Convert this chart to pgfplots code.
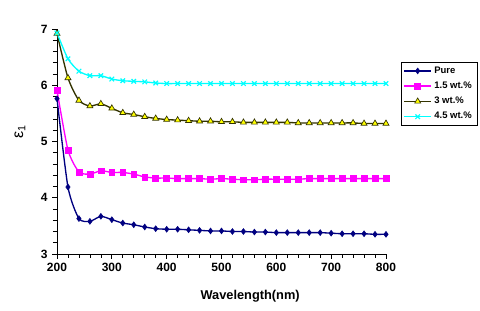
\documentclass[border=0pt]{standalone}
\usepackage{pgfplots}
\pgfplotsset{compat=1.18}
\usepackage{fontspec}
\setmainfont{Liberation Sans}
\definecolor{cpure}{RGB}{0,0,128}
\definecolor{cpink}{RGB}{255,0,255}
\definecolor{colive}{RGB}{51,51,0}
\definecolor{cyell}{RGB}{255,255,0}
\definecolor{ccyan}{RGB}{0,255,255}
\begin{document}
\begin{tikzpicture}
\useasboundingbox (0,0) rectangle (360pt,233.25pt);
\begin{axis}[
  at={(42.75pt,42.75pt)}, anchor=south west,
  scale only axis, width=246.75pt, height=168.75pt,
  xmin=200, xmax=800, ymin=3, ymax=7,
  xtick={200,300,...,800}, ytick={3,4,5,6,7},
  minor x tick num=4, minor y tick num=4,
  axis x line*=bottom, axis y line*=left,
  axis line style={line width=0.6pt},
  tick align=outside,
  major tick length=3.5pt, minor tick length=3pt,
  tick style={black, line width=0.5pt},
  /pgf/number format/assume math mode=true,
  ticklabel style={font=\bfseries\fontsize{9}{10}\selectfont},
  xlabel={\bfseries Wavelength(nm)},
  xlabel style={font=\fontsize{9.6}{11}\selectfont, at={(axis description cs:0.587,-0.187)}, anchor=center},
  ylabel={ε\textsubscript{1}},
  ylabel style={font=\fontsize{12}{13}\selectfont, at={(axis description cs:-0.1125,0.542)}, anchor=center},
  legend style={at={(axis description cs:1.0447,0.8547)}, anchor=north west,
    draw=black, line width=0.5pt, font=\bfseries\fontsize{7.1}{8}\selectfont,
    inner xsep=2pt, inner ysep=1.5pt, row sep=1pt, cells={anchor=west}},
  legend image code/.code={\draw[mark repeat=2,mark phase=2] plot coordinates {(0pt,0pt)(10pt,0pt)(20pt,0pt)};},
  every axis plot/.append style={line width=1pt, smooth, tension=0.4},
]
\addplot[color=cpure, mark=diamond*, mark size=2.2pt, mark options={fill=cpure, line width=0.4pt}] coordinates {
(200,5.76)(220,4.19)(240,3.63)(260,3.58)(280,3.67)(300,3.61)(320,3.55)(340,3.52)(360,3.48)(380,3.45)(400,3.44)(420,3.44)(440,3.43)(460,3.42)(480,3.41)(500,3.41)(520,3.40)(540,3.40)(560,3.39)(580,3.39)(600,3.38)(620,3.38)(640,3.38)(660,3.38)(680,3.38)(700,3.37)(720,3.36)(740,3.36)(760,3.36)(780,3.35)(800,3.35)};
\addlegendentry{Pure}
\addplot[color=cpink, mark=square*, mark size=2.2pt, mark options={fill=cpink, line width=0.4pt}] coordinates {
(200,5.91)(220,4.85)(240,4.46)(260,4.42)(280,4.48)(300,4.45)(320,4.45)(340,4.42)(360,4.37)(380,4.35)(400,4.35)(420,4.34)(440,4.34)(460,4.34)(480,4.33)(500,4.34)(520,4.33)(540,4.32)(560,4.32)(580,4.33)(600,4.33)(620,4.33)(640,4.33)(660,4.34)(680,4.34)(700,4.34)(720,4.34)(740,4.34)(760,4.34)(780,4.34)(800,4.34)};
\addlegendentry{1.5 wt.\%}
\addplot[color=colive, mark=triangle*, mark size=2.6pt, mark options={fill=cyell, draw=colive, line width=0.5pt}] coordinates {
(200,6.92)(220,6.13)(240,5.73)(260,5.63)(280,5.67)(300,5.59)(320,5.51)(340,5.48)(360,5.44)(380,5.41)(400,5.39)(420,5.38)(440,5.37)(460,5.36)(480,5.36)(500,5.35)(520,5.35)(540,5.34)(560,5.34)(580,5.34)(600,5.34)(620,5.34)(640,5.33)(660,5.33)(680,5.33)(700,5.33)(720,5.33)(740,5.33)(760,5.32)(780,5.32)(800,5.32)};
\addlegendentry{3 wt.\%}
\addplot[color=ccyan, mark=x, mark size=2.4pt, mark options={line width=0.9pt}] coordinates {
(200,6.93)(220,6.47)(240,6.25)(260,6.17)(280,6.17)(300,6.11)(320,6.08)(340,6.07)(360,6.06)(380,6.04)(400,6.03)(420,6.03)(440,6.03)(460,6.03)(480,6.03)(500,6.03)(520,6.03)(540,6.03)(560,6.03)(580,6.03)(600,6.03)(620,6.03)(640,6.03)(660,6.03)(680,6.03)(700,6.03)(720,6.03)(740,6.03)(760,6.03)(780,6.03)(800,6.03)};
\addlegendentry{4.5 wt.\%}
\end{axis}
\end{tikzpicture}
\end{document}
